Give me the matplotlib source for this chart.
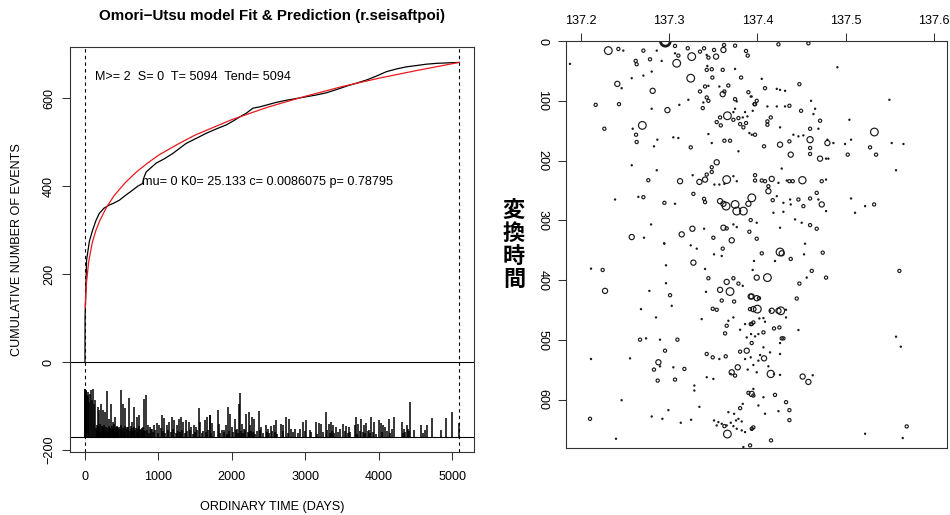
import numpy as np
import matplotlib
matplotlib.use("Agg")
import matplotlib.pyplot as plt

plt.rcParams['font.family'] = ['Liberation Sans', 'Noto Sans CJK JP', 'DejaVu Sans']

# ---- left panel: cumulative events ----
cum_t = [0, 1, 5, 22, 60, 104, 150, 195, 260, 331, 400, 468, 560, 650, 720, 786, 800, 832,
         900, 968, 1080, 1195, 1290, 1378, 1510, 1651, 1790, 1924, 2020, 2105, 2200, 2287,
         2380, 2469, 2600, 2742, 2880, 3015, 3150, 3288, 3420, 3561, 3700, 3834, 3970, 4106,
         4240, 4379, 4520, 4652, 4800, 4950, 5094]
cum_n = [0, 100, 125, 232, 275, 300, 322, 338, 350, 357, 362, 368, 380, 391, 400, 406, 418, 432,
         442, 452, 462, 474, 486, 497, 508, 520, 530, 539, 548, 557, 566, 577,
         580, 584, 590, 595, 599, 603, 607, 612, 619, 627, 634, 641, 650, 660,
         666, 671, 674, 677, 679, 680, 681]

# Omori-Utsu fitted curve
fit_t = [5, 10, 20, 50, 100, 150, 200, 300, 400, 550, 700, 850, 1000, 1250, 1500, 2000, 2500,
         3000, 3500, 4000, 4500, 5094]
fit_n = [124, 150, 180, 228, 272, 300, 321, 354, 379, 408, 432, 452, 470, 494, 516, 551, 580,
         604, 626, 645, 662, 681]

# event bars: time and top of bar (baseline -170)
bar_t = [0, 2, 4, 8, 12, 18, 25, 36, 45, 55, 65, 81, 95, 113, 125, 141,
         172, 195, 218, 241, 277, 300, 322, 354, 377, 409, 432, 486, 513, 541, 568, 604, 636,
         673, 705, 732, 764, 800, 832, 855, 887, 914, 946, 977, 1014, 1050, 1082, 1114, 1150,
         1186, 1218, 1250, 1277, 1309, 1341, 1377, 1414, 1446, 1482, 1514, 1550, 1573, 1628,
         1664, 1696, 1705, 1732, 1810, 1823, 1887, 1914, 1946, 1978, 2005, 2042, 2069, 2096,
         2110, 2142, 2169, 2196, 2228, 2251, 2278, 2305, 2365, 2401, 2460, 2492, 2528, 2569,
         2597, 2674, 2697, 2742, 2774, 2810, 2856, 2933, 2970, 3006, 3060, 3142, 3183, 3220,
         3279, 3324, 3347, 3379, 3415, 3479, 3515, 3560, 3592, 3674, 3687, 3719, 3765, 3796,
         3833, 3865, 3901, 3937, 4001, 4028, 4060, 4083, 4142, 4188, 4206, 4324, 4347, 4379,
         4401, 4433, 4479, 4583, 4629, 4661, 4720, 4843, 4915, 4993, 5097]
bar_top = [-62, -70, -61, -66, -75, -64, -80, -75, -68, -90, -72, -64, -85, -60, -95, -86,
           -101, -109, -94, -109, -113, -66, -128, -94, -136, -124, -147, -64, -94, -105, -147,
           -81, -136, -101, -124, -120, -151, -83, -75, -143, -147, -151, -143, -139, -143, -119,
           -126, -143, -136, -124, -132, -143, -128, -124, -136, -132, -136, -147, -143, -147,
           -105, -136, -132, -124, -119, -120, -139, -109, -141, -153, -143, -101, -117, -147,
           -128, -151, -94, -69, -141, -151, -117, -114, -143, -124, -128, -111, -147, -143,
           -151, -145, -143, -132, -141, -143, -124, -128, -152, -151, -151, -136, -132, -153,
           -136, -137, -141, -114, -141, -136, -143, -147, -151, -141, -145, -147, -143, -124,
           -141, -128, -143, -139, -153, -124, -136, -132, -139, -143, -147, -128, -151, -124,
           -136, -151, -143, -151, -90, -153, -143, -153, -143, -126, -153, -126, -114, -139]

# short bars packed near the baseline
fill_t = [150, 158, 165, 180, 188, 203, 210, 225, 233, 248, 256, 265, 285, 292, 308, 315, 330,
          338, 346, 362, 370, 385, 393, 400, 418, 425, 440, 448, 455, 470, 478, 495, 503, 520,
          528, 550, 558, 580, 590, 612, 620, 628, 645, 655, 665, 680, 690, 712, 720, 742, 750,
          772, 780, 790, 810, 820, 845, 870, 900, 925, 960, 990, 1030, 1060, 1095, 1125, 1165,
          1200, 1235, 1265, 1295, 1325, 1360, 1395, 1430, 1465, 1500, 1530, 1590, 1610, 1645,
          1680, 1720, 1760, 1840, 1860, 1900, 1930, 1960, 2020, 2055, 2085, 2125, 2155, 2185,
          2215, 2240, 2265, 2290, 2320, 2340, 2385, 2420, 2475, 2510, 2545, 2585, 2620, 2700,
          2760, 2830, 2900, 2990, 3080, 3160, 3240, 3300, 3335, 3360, 3395, 3440, 3540, 3580,
          3610, 3700, 3740, 3780, 3815, 3850, 3880, 3920, 3960, 4040, 4110, 4160, 4330, 4365,
          4415, 4610]
fill_top = [-150, -142, -155, -146, -152, -140, -158, -148, -145, -152, -150, -142, -155, -147,
            -150, -158, -144, -152, -149, -155, -146, -151, -140, -157, -148, -153, -145, -150,
            -156, -147, -152, -143, -155, -149, -158, -146, -151, -154, -148, -157, -145, -152,
            -150, -156, -147, -153, -149, -158, -151, -146, -155, -150, -157, -148, -153, -156,
            -155, -160, -152, -158, -155, -161, -150, -157, -160, -154, -158, -152, -161, -156,
            -159, -153, -160, -157, -155, -162, -158, -154, -160, -156, -159, -155, -161, -157,
            -160, -154, -158, -162, -156, -159, -155, -160, -157, -161, -154, -158, -160, -156,
            -159, -162, -157, -155, -160, -158, -161, -156, -159, -162, -157, -160, -158, -161,
            -156, -159, -162, -158, -155, -160, -157, -161, -159, -156, -160, -158, -162, -157,
            -159, -161, -156, -160, -158, -162, -159, -157, -161, -160, -158, -156, -160]

x_ticks = [0, 1000, 2000, 3000, 4000, 5000]
y_ticks = [-200, 0, 200, 400, 600]

# ---- right panel: longitude vs transformed time, size ~ magnitude ----
lon = [137.2313, 137.2427, 137.2483, 137.2710, 137.2861, 137.2959, 137.3068, 137.3212, 137.3257,
       137.3087, 137.2623, 137.2634, 137.2785, 137.2917, 137.3068, 137.3106, 137.3351, 137.3397,
       137.3427, 137.3446, 137.3510, 137.3533, 137.3616, 137.3623, 137.3748, 137.3872, 137.3891,
       137.1879, 137.3246, 137.3491, 137.3427, 137.3484, 137.3434, 137.3608, 137.3748, 137.3816,
       137.2578, 137.2710, 137.2804, 137.2415, 137.2464, 137.2815, 137.3351, 137.3408, 137.3446,
       137.3427, 137.3446, 137.3570, 137.3608, 137.3627, 137.3672, 137.3748, 137.3899, 137.3925,
       137.2170, 137.2434, 137.2982, 137.3117, 137.3219, 137.2804, 137.3382, 137.3389, 137.3661,
       137.3578, 137.3540, 137.3586, 137.3729, 137.3786, 137.3835, 137.3805, 137.3842, 137.3872,
       137.3729, 137.3748, 137.3767, 137.3888, 137.3948, 137.3861, 137.3910, 137.3937, 137.3967,
       137.2268, 137.2698, 137.2627, 137.2634, 137.2589, 137.2868, 137.3049, 137.3106, 137.2830,
       137.3246, 137.3627, 137.3691, 137.3446, 137.3484, 137.3786, 137.2578, 137.2861, 137.3540,
       137.3484, 137.3484, 137.3427, 137.3408, 137.3344, 137.3268, 137.3125, 137.3653, 137.3627,
       137.3570, 137.3514, 137.3729, 137.3767, 137.2766, 137.2710, 137.2653, 137.2389, 137.2948,
       137.3068, 137.3276, 137.3397, 137.3408, 137.3578, 137.3616, 137.3646, 137.3748, 137.3767,
       137.3842, 137.3899, 137.3937, 137.2797, 137.2578, 137.2717, 137.2948, 137.3144, 137.3265,
       137.3397, 137.3616, 137.3653, 137.3710, 137.3729, 137.3767, 137.3502, 137.3925, 137.3910,
       # east-centre, upper half
       137.4239, 137.4578, 137.4906, 137.4050, 137.4087, 137.4220, 137.4257, 137.4314, 137.4476,
       137.3974, 137.3993, 137.3936, 137.4114, 137.4220, 137.4314, 137.4363, 137.4495, 137.4608,
       137.4654, 137.4635, 137.4114, 137.4114, 137.4152, 137.4257, 137.4408, 137.4465, 137.4597,
       137.4691, 137.4710, 137.5042, 137.5495, 137.3974, 137.4076, 137.4257, 137.4363, 137.4378,
       137.4521, 137.4597, 137.4597, 137.4597, 137.4710, 137.4778, 137.4804, 137.4793, 137.4793,
       137.4861, 137.4993, 137.5061, 137.5023, 137.5276, 137.5325, 137.5344, 137.5521, 137.5654,
       137.5570, 137.4276, 137.3974, 137.3974, 137.4050, 137.4087, 137.4163, 137.4125, 137.4125,
       137.4239, 137.4333, 137.4363, 137.4401, 137.4510, 137.4729, 137.4778, 137.4174, 137.4220,
       137.4295, 137.4371, 137.4378, 137.4465, 137.4521, 137.4597, 137.4672, 137.4729, 137.4691,
       137.4778, 137.4295, 137.4182, 137.5061, 137.5106, 137.5220, 137.5322, 137.3993, 137.4257,
       137.4427, 137.4502, 137.4597, 137.4672, 137.3993, 137.4540,
       # west-centre, lower half
       137.2944, 137.3276, 137.3246, 137.3314, 137.3608, 137.3510, 137.3597, 137.2249, 137.2117,
       137.2966, 137.2966, 137.3012, 137.2276, 137.2778, 137.3031, 137.3446, 137.3408, 137.3653,
       137.3729, 137.3786, 137.3835, 137.3578, 137.3691, 137.3419, 137.3597, 137.3737, 137.3925,
       137.3955, 137.3495, 137.3540, 137.2683, 137.2853, 137.3370, 137.3653, 137.3729, 137.3672,
       137.3635, 137.3805, 137.3861, 137.3925, 137.3880, 137.3929, 137.2672, 137.2740, 137.2898,
       137.3095, 137.2117, 137.2559, 137.2955, 137.2880, 137.2830, 137.2898, 137.3049, 137.3174,
       137.2872, 137.3068, 137.3427, 137.3495, 137.3642, 137.3570, 137.3805, 137.3880, 137.3778,
       137.3710, 137.3748, 137.3699, 137.3861, 137.3925, 137.3891, 137.3287, 137.3287, 137.3427,
       137.3502, 137.3955, 137.3899, 137.3955, 137.2464, 137.2106, 137.3344, 137.2993, 137.2925,
       137.2804, 137.3133, 137.3250, 137.3805, 137.3835, 137.3786, 137.3672, 137.3737, 137.3759,
       137.3823, 137.3510, 137.3559, 137.3597, 137.3540, 137.3627, 137.3653, 137.3699, 137.3729,
       137.3767, 137.3823, 137.3861, 137.3937, 137.3661, 137.2400, 137.3918, 137.3842,
       # east-centre, lower half
       137.4050, 137.4257, 137.4276, 137.4378, 137.4529, 137.4740, 137.3962, 137.4200, 137.4616,
       137.4778, 137.4559, 137.4476, 137.3993, 137.4114, 137.3947, 137.4446, 137.3936, 137.3993,
       137.4019, 137.4000, 137.3917, 137.4163, 137.4239, 137.4265, 137.4144, 137.4325, 137.4325,
       137.4069, 137.4023, 137.4087, 137.4189, 137.4250, 137.4069, 137.4012, 137.3974, 137.4295,
       137.4276, 137.4465, 137.3936, 137.3955, 137.3936, 137.4069, 137.4144, 137.4031, 137.4012,
       137.4076, 137.4257, 137.4257, 137.4125, 137.4152, 137.4189, 137.4257, 137.3955, 137.3993,
       137.4513, 137.4578, 137.4627, 137.3936, 137.4200, 137.4069, 137.4012, 137.4239, 137.4087,
       137.4325, 137.4363, 137.4363, 137.3955, 137.3936, 137.4155, 137.5608, 137.5570, 137.5624,
       137.5691, 137.5646, 137.5220]
tt = [16.1, 13.3, 16.1, 16.1, 16.1, 0.5, 8.3, 12.2, 26.1,
      37.2, 33.3, 38.9, 30.6, 33.3, 20.6, 24.4, 17.8, 12.2,
      23.3, 27.8, 15.0, 26.1, 15.0, 6.7, 7.8, 16.7, 24.4,
      38.3, 62.2, 61.1, 48.3, 47.2, 41.7, 48.3, 46.7, 61.1,
      62.2, 57.8, 51.1, 71.7, 78.9, 83.3, 84.4, 76.1, 75.0,
      94.4, 100.0, 76.1, 88.9, 84.4, 74.4, 97.2, 85.6, 92.8,
      106.7, 105.6, 115.6, 106.7, 98.3, 113.3, 112.2, 102.8, 125.0,
      127.8, 135.6, 141.1, 131.7, 128.9, 127.8, 138.9, 144.4, 137.2,
      118.9, 113.3, 101.0, 126.0, 116.7, 118.9, 153.9, 156.7, 105.6,
      146.7, 141.1, 156.7, 168.9, 146.7, 165.0, 161.1, 162.2, 176.1,
      177.8, 166.7, 166.7, 155.6, 170.6, 184.4, 207.8, 216.1, 202.8,
      211.1, 218.9, 223.3, 231.7, 235.6, 224.4, 234.4, 231.7, 238.9,
      240.0, 240.0, 226.1, 234.4, 232.8, 261.1, 260.6, 265.0, 270.6,
      272.2, 255.6, 263.9, 269.4, 267.8, 272.2, 276.1, 273.3, 284.4,
      284.4, 272.2, 262.2, 306.7, 327.8, 328.9, 338.9, 323.3, 313.9,
      313.9, 312.2, 313.3, 333.3, 306.7, 311.1, 328.9, 299.4, 318.9,
      5.6, 3.9, 43.9, 63.3, 78.9, 80.0, 81.7, 83.3, 72.2,
      105.6, 100.0, 92.8, 109.4, 109.4, 109.4, 108.3, 116.7, 100.0,
      113.3, 122.2, 134.4, 140.0, 127.8, 144.4, 156.7, 159.4, 146.7,
      146.7, 133.3, 131.7, 98.3, 156.7, 176.1, 173.3, 167.8, 190.0,
      157.8, 165.0, 178.9, 188.9, 196.7, 196.7, 196.7, 170.6, 165.0,
      170.6, 172.2, 165.0, 190.0, 177.8, 152.2, 190.0, 170.6, 172.2,
      216.1, 213.3, 224.4, 233.3, 233.3, 234.4, 230.6, 242.8, 251.1,
      237.2, 233.3, 234.4, 234.4, 232.8, 234.4, 231.7, 266.1, 259.4,
      270.6, 265.0, 273.3, 265.0, 276.1, 263.3, 253.9, 273.3, 265.0,
      284.4, 285.6, 287.2, 263.3, 287.2, 276.1, 273.3, 303.9, 312.2,
      298.3, 303.9, 307.8, 313.9, 330.6, 338.9,
      338.3, 370.6, 341.7, 347.2, 347.2, 356.7, 359.4, 382.8, 380.6,
      375.0, 405.0, 425.0, 417.8, 417.8, 442.8, 396.7, 381.1, 402.8,
      396.7, 405.6, 409.4, 416.1, 418.9, 419.4, 433.9, 435.6, 427.2,
      448.3, 447.8, 449.4, 448.3, 462.2, 465.0, 476.1, 462.2, 467.8,
      488.9, 482.8, 473.3, 473.3, 495.6, 490.0, 499.4, 497.2, 499.4,
      499.4, 531.7, 530.6, 517.8, 537.2, 549.4, 543.9, 545.6, 548.3,
      567.8, 566.1, 523.3, 528.9, 527.2, 531.7, 519.4, 517.8, 545.6,
      553.9, 559.4, 556.7, 531.7, 528.9, 549.4, 576.1, 584.4, 562.2,
      565.0, 581.7, 588.3, 592.8, 600.6, 631.7, 611.7, 617.2, 631.7,
      627.8, 638.3, 633.3, 613.9, 606.7, 631.7, 620.6, 623.3, 634.4,
      636.1, 634.4, 637.2, 640.0, 642.8, 643.9, 642.8, 638.3, 643.9,
      648.3, 651.1, 653.9, 648.3, 657.2, 665.0, 676.1, 678.9,
      355.0, 352.8, 355.0, 364.4, 356.7, 353.9, 367.8, 367.8, 384.4,
      395.6, 395.6, 405.6, 395.6, 395.6, 382.8, 430.6, 427.2, 430.0,
      430.0, 448.3, 448.3, 451.1, 451.1, 451.1, 451.1, 449.4, 462.2,
      463.3, 463.9, 469.4, 480.6, 478.9, 487.2, 490.0, 493.9, 497.2,
      497.2, 483.3, 473.3, 470.6, 505.0, 512.2, 520.6, 525.0, 534.4,
      530.6, 505.0, 523.3, 543.9, 556.7, 556.7, 558.3, 541.7, 553.9,
      561.1, 570.0, 558.9, 590.0, 591.7, 595.6, 609.4, 618.9, 623.3,
      603.9, 617.2, 633.9, 646.1, 650.0, 667.8, 384.4, 494.4, 511.1,
      644.4, 663.9, 656.7]
mag = [3.3, 2.4, 2.0, 2.4, 2.0, 3.7, 2.4, 2.4, 3.3,
       3.3, 2.4, 2.4, 2.4, 2.0, 2.0, 2.4, 2.4, 2.4,
       2.0, 2.4, 2.4, 2.8, 2.8, 2.4, 2.4, 2.4, 2.4,
       2.0, 3.3, 2.4, 2.4, 2.4, 2.0, 2.4, 2.0, 2.4,
       2.0, 2.0, 2.0, 2.8, 2.0, 2.8, 2.4, 2.4, 2.0,
       2.4, 2.4, 2.0, 2.8, 2.4, 2.4, 2.4, 2.4, 2.0,
       2.4, 2.4, 2.8, 2.0, 2.0, 2.0, 2.4, 2.0, 3.3,
       2.4, 2.4, 2.4, 2.4, 2.4, 2.0, 2.4, 2.4, 2.4,
       2.0, 2.0, 2.0, 2.0, 2.0, 2.0, 2.0, 2.0, 2.4,
       2.4, 3.3, 2.4, 2.4, 2.0, 2.0, 2.0, 2.0, 2.0,
       2.4, 2.4, 2.4, 2.0, 2.0, 2.0, 2.0, 2.0, 2.8,
       2.4, 2.4, 2.4, 2.8, 2.8, 2.0, 2.8, 3.3, 2.0,
       2.0, 2.0, 2.0, 2.0, 2.4, 2.4, 2.0, 2.0, 2.4,
       2.0, 2.4, 2.4, 2.4, 2.8, 2.8, 3.3, 3.3, 3.3,
       3.3, 2.8, 3.3, 2.0, 2.8, 2.0, 2.0, 2.8, 2.8,
       2.0, 2.8, 2.4, 2.8, 2.0, 2.0, 2.4, 2.4, 2.4,
       2.4, 2.4, 2.0, 2.0, 2.4, 2.0, 2.0, 2.0, 2.4,
       2.4, 2.4, 2.0, 2.0, 2.0, 2.0, 2.4, 2.4, 2.0,
       2.0, 2.0, 2.4, 2.4, 2.4, 2.0, 2.0, 2.0, 2.4,
       2.0, 2.4, 2.0, 2.0, 2.4, 2.4, 2.8, 2.4, 2.8,
       2.0, 3.0, 2.4, 2.4, 2.8, 2.0, 2.0, 2.8, 2.0,
       2.0, 2.0, 2.0, 2.4, 2.4, 3.3, 2.4, 2.0, 2.0,
       2.0, 2.0, 2.4, 2.4, 2.4, 2.4, 2.8, 2.4, 2.8,
       2.0, 2.0, 2.4, 2.4, 3.2, 2.4, 2.0, 2.4, 2.0,
       2.0, 2.0, 2.0, 2.4, 2.4, 2.4, 2.4, 2.8, 2.0,
       2.0, 2.0, 2.0, 2.0, 2.0, 2.0, 2.4, 2.0, 2.0,
       2.0, 2.0, 2.4, 2.4, 2.4, 2.0,
       2.0, 2.8, 2.0, 2.0, 2.4, 2.0, 2.0, 2.4, 2.0,
       2.0, 2.0, 2.4, 2.8, 2.0, 2.0, 2.4, 2.0, 2.8,
       2.4, 2.4, 2.0, 2.8, 3.3, 2.0, 2.4, 2.4, 2.8,
       2.8, 2.4, 2.4, 2.0, 2.0, 2.0, 2.4, 2.0, 2.0,
       2.4, 2.0, 2.0, 2.4, 2.0, 2.0, 2.4, 2.0, 2.0,
       2.4, 2.0, 2.0, 2.4, 2.8, 2.4, 2.0, 2.0, 2.4,
       2.4, 2.4, 2.4, 2.4, 2.4, 2.0, 2.4, 2.8, 2.8,
       2.8, 2.4, 2.0, 2.0, 2.0, 2.0, 2.0, 2.0, 2.0,
       2.0, 2.0, 2.4, 2.4, 2.0, 2.4, 2.0, 2.0, 2.0,
       2.0, 2.0, 2.0, 2.4, 2.0, 2.0, 2.0, 2.0, 2.0,
       2.0, 2.0, 2.0, 2.0, 2.0, 2.4, 2.0, 2.0, 2.0,
       2.0, 2.0, 2.0, 2.4, 3.3, 2.0, 2.4, 2.0,
       2.4, 3.3, 2.8, 2.4, 2.0, 2.4, 2.0, 2.0, 2.4,
       2.4, 2.0, 2.4, 2.8, 3.3, 2.0, 2.4, 2.8, 2.8,
       2.4, 3.3, 2.4, 2.8, 2.8, 3.3, 2.0, 2.0, 2.0,
       2.0, 2.0, 2.0, 2.4, 2.4, 2.4, 2.0, 2.0, 2.4,
       2.4, 2.0, 2.4, 2.4, 2.4, 2.0, 2.0, 2.0, 2.0,
       2.8, 2.0, 2.0, 2.0, 3.2, 2.0, 2.0, 2.0, 2.0,
       2.8, 2.8, 2.0, 2.8, 2.4, 2.0, 2.0, 2.0, 2.0,
       2.4, 2.4, 2.4, 2.4, 2.0, 2.4, 2.4, 2.0, 2.0,
       2.4, 2.0, 2.0]
lon_ticks = [137.2, 137.3, 137.4, 137.5, 137.6]
time_ticks = [0, 100, 200, 300, 400, 500, 600]

TXT = 9.1
EDGE = '#333333'

fig = plt.figure(figsize=(9.5, 5.15), dpi=100)

# ---------- left ----------
ax = fig.add_axes([70 / 950, 63 / 515, 404 / 950, 405 / 515])
nf = min(len(fill_t), len(fill_top))
ax.vlines(fill_t[:nf], -170, fill_top[:nf], color='black', lw=1.1)
nb = min(len(bar_t), len(bar_top))
ax.vlines(bar_t[:nb], -170, bar_top[:nb], color='black', lw=1.1)
ax.axhline(0, color='black', lw=0.8)
ax.axhline(-170, color='black', lw=0.8)
ax.axvline(0, color='black', lw=0.8, ls=(0, (3, 3)))
ax.axvline(5094, color='black', lw=0.8, ls=(0, (3, 3)))
ax.plot(cum_t, cum_n, color='black', lw=0.9)
ax.plot(fit_t, fit_n, color='#e8191d', lw=0.9)
ax.text(140, 648, "M>= 2  S= 0  T= 5094  Tend= 5094", fontsize=TXT, ha='left', va='center')
ax.text(782, 409, "mu= 0 K0= 25.133 c= 0.0086075 p= 0.78795", fontsize=TXT, ha='left', va='center')
ax.set_xlim(-204, 5298)
ax.set_ylim(-204, 716)
ax.set_xticks(x_ticks)
ax.set_yticks(y_ticks)
ax.tick_params(direction='out', length=5.8, width=0.75, color=EDGE, labelsize=TXT, pad=5)
ax.tick_params(axis='x', pad=8)
ax.tick_params(axis='y', labelrotation=90)
for lb in ax.get_yticklabels():
    lb.set_va('center')
for s in ax.spines.values():
    s.set_color(EDGE)
    s.set_linewidth(0.8)

fig.text(272 / 950, 1 - 16 / 515, "Omori\u2212Utsu model Fit & Prediction (r.seisaftpoi)",
         fontsize=10.9, fontweight='bold', ha='center', va='center')
fig.text(272 / 950, 1 - 507 / 515, "ORDINARY TIME (DAYS)", fontsize=TXT, ha='center', va='center')
fig.text(17.5 / 950, 1 - 250 / 515, "CUMULATIVE NUMBER OF EVENTS", fontsize=TXT,
         rotation=90, ha='center', va='center')

# ---------- right ----------
ax2 = fig.add_axes([566 / 950, 67 / 515, 381 / 950, 407 / 515])
n = min(len(lon), len(tt), len(mag))
m = np.array(mag[:n])
diam_px = 1.2 + (m - 2.0) * 5.0
sizes = (diam_px * 0.72) ** 2
lws = np.where(m >= 3.5, 2.0, 0.85)
ax2.scatter(lon[:n], tt[:n], s=sizes, facecolors='none', edgecolors='#1a1a1a', linewidths=lws)
ax2.set_xlim(137.1834, 137.6147)
ax2.set_ylim(680.5, 0)
ax2.set_xticks(lon_ticks)
ax2.set_xticklabels([f"{v:.1f}" for v in lon_ticks])
ax2.set_yticks(time_ticks)
ax2.xaxis.tick_top()
ax2.tick_params(direction='out', length=5.8, width=0.75, color=EDGE, labelsize=TXT, pad=4)
ax2.tick_params(axis='y', labelrotation=270, pad=7)
for lb in ax2.get_yticklabels():
    lb.set_va('center')
for s in ax2.spines.values():
    s.set_color(EDGE)
    s.set_linewidth(0.8)

fig.text(514 / 950, 1 - 245 / 515, "\u5909\n\u63db\n\u6642\n\u9593", fontsize=16,
         fontweight='bold', family=['Noto Sans CJK JP', 'DejaVu Sans'],
         ha='center', va='center', linespacing=1.0)

fig.savefig("out.png", dpi=100)
